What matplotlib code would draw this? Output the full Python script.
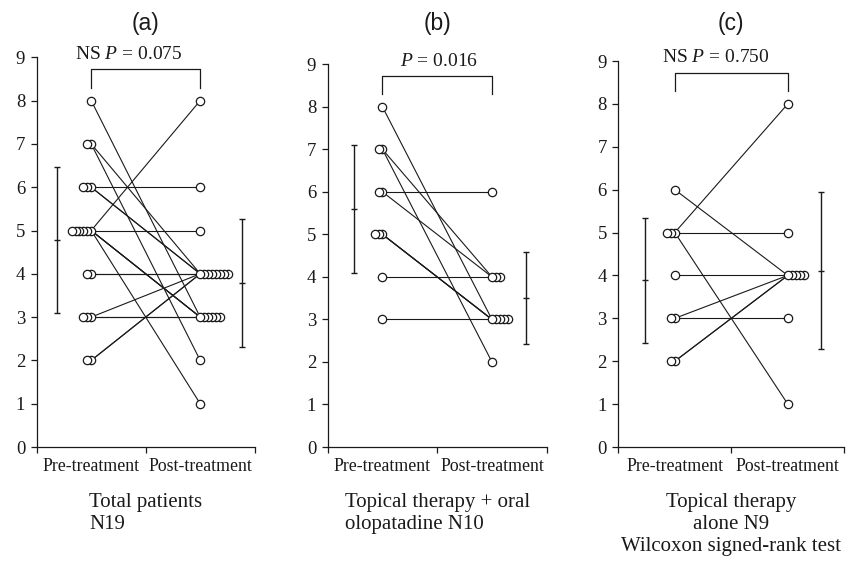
import numpy as np
import matplotlib.pyplot as plt

plt.rcParams['font.family'] = ['Liberation Serif', 'DejaVu Serif']
plt.rcParams['mathtext.fontset'] = 'custom'
plt.rcParams['mathtext.rm'] = 'Liberation Serif'
plt.rcParams['mathtext.it'] = 'Liberation Serif:italic'

# paired scores (one entry per patient)
oral_pre = [8, 7, 7, 6, 6, 5, 5, 5, 4, 3]
oral_post = [3, 4, 2, 6, 4, 3, 3, 3, 4, 3]
topical_pre = [6, 5, 5, 5, 4, 3, 3, 2, 2]
topical_post = [4, 8, 5, 1, 4, 4, 3, 4, 4]
total_pre = oral_pre + topical_pre
total_post = oral_post + topical_post

groups = ['Pre-treatment', 'Post-treatment']
titles = ['(a)', '(b)', '(c)']
p_texts = ['NS $P$ = 0.075', '$P$ = 0.016', 'NS $P$ = 0.750']
captions = ['Total patients\nN19',
            'Topical therapy + oral\nolopatadine N10',
            'Topical therapy\nalone N9\nWilcoxon signed-rank test']
cap_align = ['left', 'left', 'center']

panels = [(total_pre, total_post), (oral_pre, oral_post), (topical_pre, topical_post)]

W, H = 852, 562
rects = [(36.7, 57.3, 218), (327.7, 64.3, 219), (618.3, 61.0, 226)]  # left px, top px, width px
bottom_px = 447
err_x = [(0.19, 1.88), (0.24, 1.81), (0.24, 1.79)]
ptext_x = [0.84, 1.02, 0.865]
step = 0.036
ink = '#1a1a1a'

fig = plt.figure(figsize=(W / 100, H / 100), dpi=100)

for i, (pre, post) in enumerate(panels):
    lp, tp, wp = rects[i]
    ax = fig.add_axes([lp / W, 1 - bottom_px / H, wp / W, (bottom_px - tp) / H])
    ax.set_xlim(0, 2)
    ax.set_ylim(0, 9)

    # connecting lines
    for a, b in zip(pre, post):
        ax.plot([0.5, 1.5], [a, b], color=ink, lw=0.8, zorder=2)

    # stacked circles: duplicates shift left (pre) / right (post)
    pts = []
    for vals, x0, sgn in [(pre, 0.5, -1), (post, 1.5, 1)]:
        seen = {}
        for v in vals:
            k = seen.get(v, 0)
            seen[v] = k + 1
            pts.append((x0 + sgn * k * step, v))
    pts.sort(key=lambda p: -p[0])
    for x, y in pts:
        ax.plot(x, y, 'o', ms=6, mfc='white', mec=ink, mew=0.9, zorder=3)

    # mean +/- SD
    for xe, vals in zip(err_x[i], (pre, post)):
        m = np.mean(vals)
        sd = np.std(vals, ddof=1)
        ax.errorbar(xe, m, yerr=sd, fmt='_', ms=5, color=ink, ecolor=ink,
                    elinewidth=1.0, capsize=2.2, capthick=1.0, mew=1.0)

    # significance bracket
    ax.plot([0.5, 0.5, 1.5, 1.5], [8.3, 8.72, 8.72, 8.3], color=ink, lw=0.9,
            clip_on=False)
    ax.text(ptext_x[i], 9.07, p_texts[i], ha='center', va='center', fontsize=14,
            color=ink)

    for s in ['top', 'right']:
        ax.spines[s].set_visible(False)
    for s in ['left', 'bottom']:
        ax.spines[s].set_color(ink)
        ax.spines[s].set_linewidth(0.9)
    ax.set_yticks(range(10))
    ax.tick_params(axis='y', labelsize=13.5, length=4.3, width=0.9, pad=4,
                   colors=ink)
    ax.set_xticks([0, 1, 2])
    ax.set_xticklabels([])
    ax.tick_params(axis='x', which='major', length=4.3, width=0.9, colors=ink)
    ax.set_xticks([0.5, 1.5], minor=True)
    ax.set_xticklabels(groups, minor=True)
    ax.tick_params(axis='x', which='minor', length=0, pad=8, labelsize=12.8,
                   labelcolor=ink)

    cx = (lp + wp / 2) / W
    fig.text(cx, 0.959, titles[i], ha='center', va='center', fontsize=16.5,
             family='Liberation Sans', color=ink)
    fig.text(cx, 1 - 493 / H, captions[i], ha='center', va='top', fontsize=15,
             multialignment=cap_align[i], color=ink)

fig.savefig('out.png', dpi=100)
